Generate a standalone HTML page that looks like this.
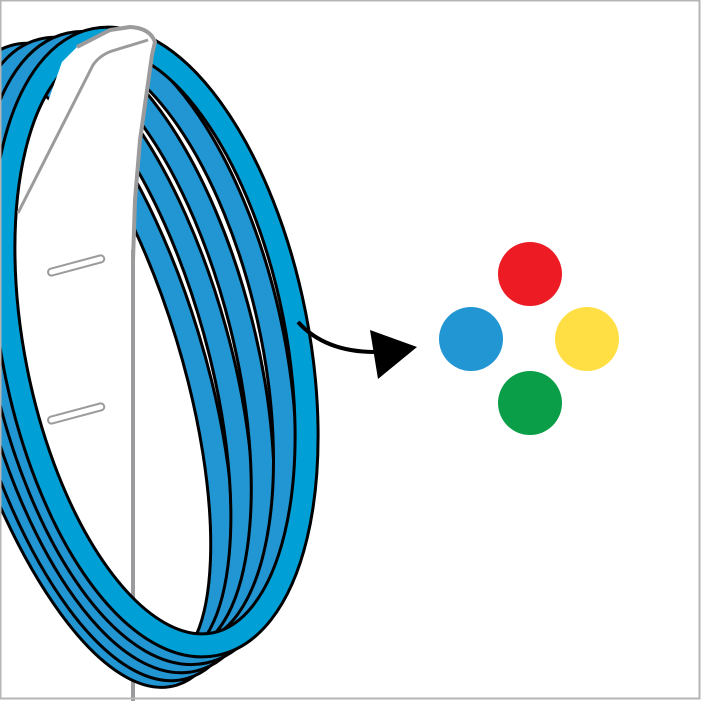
<!DOCTYPE html>
<html><head><style>html,body{margin:0;padding:0;background:#fff}svg{display:block}</style></head>
<body>
<svg width="701" height="701" viewBox="0 0 701 701" xmlns="http://www.w3.org/2000/svg">
<rect x="0" y="0" width="701" height="701" fill="#fff"/>
<line x1="133" y1="150" x2="133" y2="701" stroke="#9b9b9d" stroke-width="4"/>
<rect x="47" y="262" width="58" height="7" rx="3.5" fill="#fff" stroke="#9b9b9d" stroke-width="2" transform="rotate(-15 76 265)"/>
<rect x="47" y="410" width="58" height="7" rx="3.5" fill="#fff" stroke="#9b9b9d" stroke-width="2" transform="rotate(-15 76 413)"/>
<g fill="none">
  <g transform="translate(80,368) rotate(-17)"><ellipse rx="112" ry="320" stroke="#000" stroke-width="26"/><ellipse rx="112" ry="320" stroke="#2196d3" stroke-width="20"/></g>
  <g transform="translate(99,362) rotate(-15.5)"><ellipse rx="120" ry="317" stroke="#000" stroke-width="26"/><ellipse rx="120" ry="317" stroke="#2196d3" stroke-width="20"/></g>
  <g transform="translate(118,355) rotate(-14)"><ellipse rx="127" ry="314" stroke="#000" stroke-width="26"/><ellipse rx="127" ry="314" stroke="#2196d3" stroke-width="20"/></g>
  <g transform="translate(137,348) rotate(-12.5)"><ellipse rx="135" ry="311" stroke="#000" stroke-width="26"/><ellipse rx="135" ry="311" stroke="#2196d3" stroke-width="20"/></g>
  <g transform="translate(155,342) rotate(-11.2)"><ellipse rx="142" ry="308" stroke="#000" stroke-width="26"/><ellipse rx="142" ry="308" stroke="#009fd6" stroke-width="20"/></g>
</g>
<path d="M18,213 L45,110 L62,62 L77,47 L110,30 L130,27 Q150,28 155,42 L140,140 L135,200 L133,250 L110,250 Z" fill="#fff"/>
<path d="M18,213 L93,65 Q100,55 112,51 L148,40" fill="none" stroke="#9b9b9d" stroke-width="3" stroke-linejoin="round"/>
<path d="M77,47 L110,30 L130,27 Q150,28 155,42 L152,55 L140,140 L135,200 L133,260" fill="none" stroke="#9b9b9d" stroke-width="4" stroke-linejoin="round"/>
<path d="M298,322 Q325,352 375,352" fill="none" stroke="#000" stroke-width="4"/>
<polygon points="370,330 417,347 378,379" fill="#000"/>
<circle cx="530" cy="274" r="32" fill="#ed1c24"/>
<circle cx="471" cy="339" r="32" fill="#2196d3"/>
<circle cx="587" cy="339" r="32" fill="#ffdf43"/>
<circle cx="530" cy="403" r="32" fill="#0b9e48"/>
<rect x="0.5" y="0.5" width="699" height="698" fill="none" stroke="#b5b5b5" stroke-width="2"/>
</svg>
</body></html>
